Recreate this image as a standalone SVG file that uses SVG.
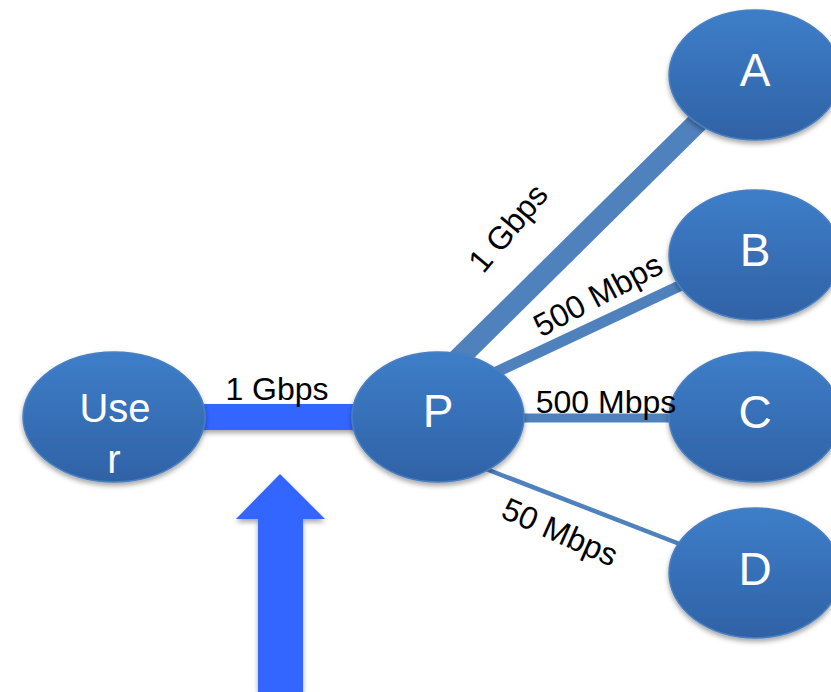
<svg xmlns="http://www.w3.org/2000/svg" width="831" height="692" viewBox="0 0 831 692">
<defs>
<linearGradient id="g" x1="0" y1="0" x2="0" y2="1">
<stop offset="0" stop-color="#3e7ec9"/>
<stop offset="1" stop-color="#2f62a6"/>
</linearGradient>
<filter id="sh" x="-20%" y="-20%" width="140%" height="150%">
<feDropShadow dx="0" dy="3" stdDeviation="2.5" flood-color="#000" flood-opacity="0.35"/>
</filter>
<style>
.node{fill:url(#g);stroke:#4a7fc0;stroke-width:1.5;filter:url(#sh)}
.nl{font-family:"Liberation Sans",Arial,sans-serif;fill:#fff;text-anchor:middle}
.lbl{font-family:"Liberation Sans",Arial,sans-serif;font-size:32px;fill:#000;text-anchor:middle}
.ln{stroke:#4f81bd;fill:none}
</style>
</defs>
<rect width="831" height="692" fill="#fff"/>
<g id="connectors">
<line class="ln" x1="452" y1="365" x2="705" y2="115" stroke-width="21"/>
<line class="ln" x1="488" y1="376" x2="690" y2="281" stroke-width="11"/>
<line class="ln" x1="520" y1="418" x2="680" y2="418" stroke-width="9"/>
<line class="ln" x1="486" y1="469" x2="690" y2="548" stroke-width="4.5"/>
<rect x="200" y="404" width="158" height="26" fill="#3366ff" filter="url(#sh)"/>
</g>
<g id="arrow">
<polygon points="280,474 325,519 303,519 303,692 258,692 258,519 236,519" fill="#3366ff" filter="url(#sh)"/>
</g>
<g id="node-user">
<ellipse class="node" cx="114" cy="417" rx="91" ry="65"/>
<text class="nl" x="115" y="422" font-size="40">Use</text>
<text class="nl" x="114" y="473" font-size="40">r</text>
</g>
<g id="node-p">
<ellipse class="node" cx="438" cy="417" rx="86" ry="65"/>
<text class="nl" x="438" y="427" font-size="46">P</text>
</g>
<g id="node-a">
<ellipse class="node" cx="755" cy="75" rx="86" ry="65"/>
<text class="nl" x="755" y="86" font-size="46">A</text>
</g>
<g id="node-b">
<ellipse class="node" cx="755" cy="255" rx="86" ry="65"/>
<text class="nl" x="755" y="266" font-size="46">B</text>
</g>
<g id="node-c">
<ellipse class="node" cx="755" cy="417" rx="86" ry="65"/>
<text class="nl" x="755" y="428" font-size="46">C</text>
</g>
<g id="node-d">
<ellipse class="node" cx="755" cy="573" rx="86" ry="65"/>
<text class="nl" x="755" y="585" font-size="46">D</text>
</g>
<g id="labels">
<text class="lbl" x="277" y="400">1 Gbps</text>
<text class="lbl" x="606" y="413">500 Mbps</text>
<text class="lbl" dominant-baseline="central" transform="translate(508,228) rotate(-50)">1 Gbps</text>
<text class="lbl" dominant-baseline="central" transform="translate(598,295) rotate(-28)">500 Mbps</text>
<text class="lbl" dominant-baseline="central" transform="translate(560,532) rotate(24)">50 Mbps</text>
</g>
</svg>
